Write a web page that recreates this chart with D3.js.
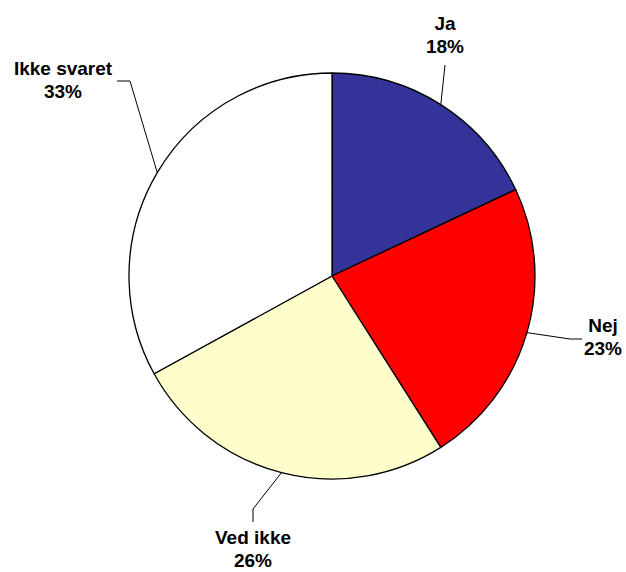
<!DOCTYPE html>
<html>
<head>
<meta charset="utf-8">
<script src="https://cdn.jsdelivr.net/npm/d3@7"></script>
<style>
  body { margin: 0; background: #fff; }
  text { font-family: "Liberation Sans", Arial, sans-serif; font-weight: bold; fill: #000; }
</style>
</head>
<body>
<svg id="chart"></svg>
<script>
const width = 626;
const height = 572;

const categories = ['Ja', 'Nej', 'Ved ikke', 'Ikke svaret'];
const values = [18, 23, 26, 33];
const colors = ['#333399', '#FF0000', '#FFFFCC', '#FFFFFF'];

// label placement (center of label block) and leader elbow, per slice
const labelPos = [
    {x: 445, y: 23, elbow: [[445, 65]]},
    {x: 603, y: 325, elbow: [[582, 339], [570, 339]]},
    {x: 253, y: 537, elbow: [[253, 522], [253, 509]]},
    {x: 63, y: 68, elbow: [[117, 81], [130, 81]]}
];

const cx = 332, cy = 276, radius = 203;

const svg = d3.select('#chart')
    .attr('width', width)
    .attr('height', height);

const g = svg.append('g').attr('transform', `translate(${cx}, ${cy})`);

const pie = d3.pie().sort(null).value(d => d);
const arc = d3.arc().innerRadius(0).outerRadius(radius);
const arcs = pie(values);

g.selectAll('path').data(arcs)
    .enter()
    .append('path')
    .attr('d', arc)
    .style('fill', (d, i) => colors[i])
    .style('stroke', '#000')
    .style('stroke-width', 1.3)
    .style('stroke-linejoin', 'round');

const total = d3.sum(values);

arcs.forEach((d, i) => {
    const mid = (d.startAngle + d.endAngle) / 2;
    const p = [cx + radius * Math.sin(mid), cy - radius * Math.cos(mid)];
    const pts = labelPos[i].elbow.concat([p]);
    svg.append('polyline')
        .attr('points', pts.map(q => q.join(',')).join(' '))
        .style('fill', 'none')
        .style('stroke', '#000')
        .style('stroke-width', 1);

    const t = svg.append('text')
        .attr('x', labelPos[i].x)
        .attr('y', labelPos[i].y)
        .attr('text-anchor', 'middle')
        .style('font-size', '19px');
    t.append('tspan')
        .attr('x', labelPos[i].x)
        .attr('dy', '0.35em')
        .text(categories[i]);
    t.append('tspan')
        .attr('x', labelPos[i].x)
        .attr('dy', '1.22em')
        .text(Math.round(values[i] / total * 100) + '%');
});
</script>
</body>
</html>
